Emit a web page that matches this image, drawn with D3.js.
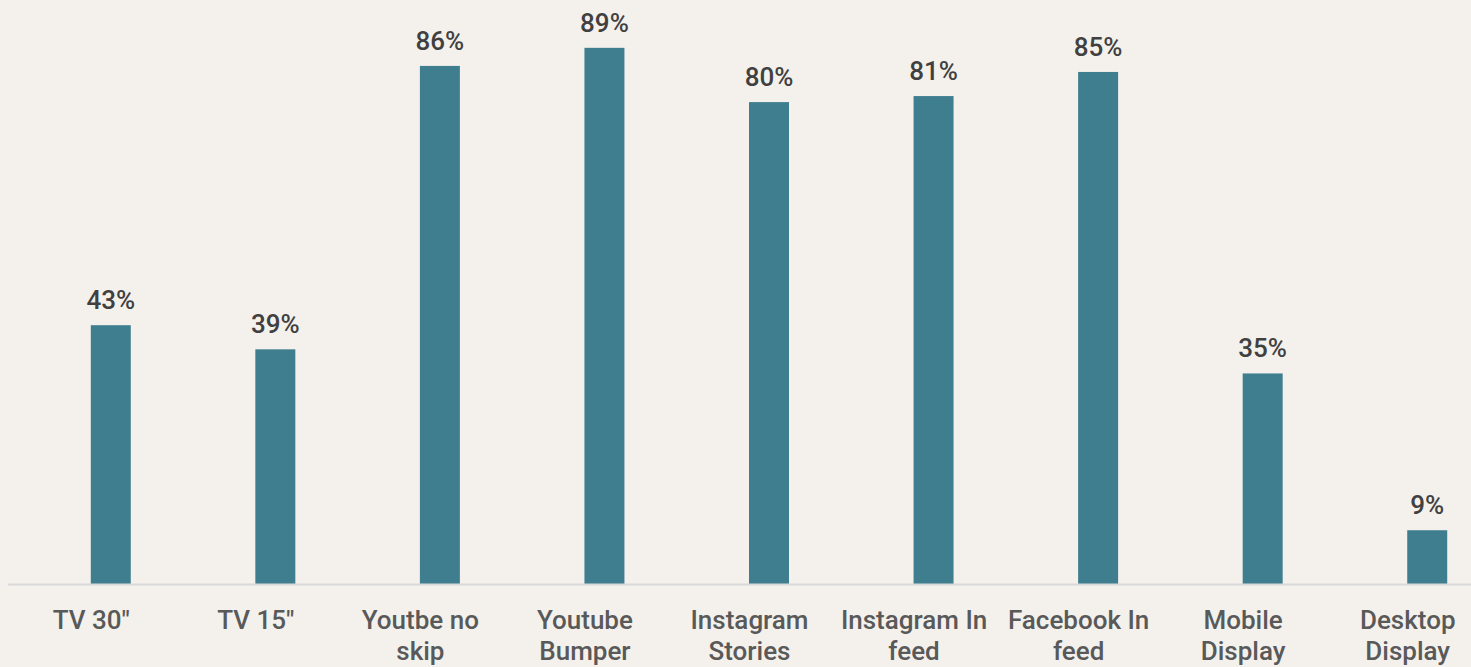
<!DOCTYPE html>
<html>
<head>
<meta charset="utf-8">
<script src="https://cdn.jsdelivr.net/npm/d3@7"></script>
<style>
html,body{margin:0;padding:0;background:#f4f1ec;overflow:hidden;}
svg{display:block;}
</style>
</head>
<body>
<svg id="chart" width="1471" height="667"></svg>
<script>
const categories = ["TV 30\"", "TV 15\"", "Youtbe no skip", "Youtube Bumper", "Instagram Stories", "Instagram In feed", "Facebook In feed", "Mobile Display", "Desktop Display"];
const labelLines = [["TV 30\""], ["TV 15\""], ["Youtbe no", "skip"], ["Youtube", "Bumper"], ["Instagram", "Stories"], ["Instagram In", "feed"], ["Facebook In", "feed"], ["Mobile", "Display"], ["Desktop", "Display"]];
const values = [43, 39, 86, 89, 80, 81, 85, 35, 9];

const W = 1471, H = 667;
const svg = d3.select("#chart");
svg.append("rect").attr("width", W).attr("height", H).attr("fill", "#f4f1ec");

const baseY = 584.5;
const x = d3.scaleBand().domain(categories).range([28.5, 1509.5]).paddingInner(0.757).paddingOuter(0.3785);
const y = d3.scaleLinear().domain([0, 100]).range([baseY, baseY - 603]);
const labelShift = -19.5;

const data = categories.map((c, i) => ({c, v: values[i], lines: labelLines[i]}));

svg.selectAll("rect.bar").data(data).enter().append("rect")
  .attr("class", "bar")
  .attr("x", d => x(d.c))
  .attr("width", x.bandwidth())
  .attr("y", d => y(d.v))
  .attr("height", d => y(0) - y(d.v))
  .attr("fill", "#3f7e8f");

svg.append("line").attr("x1", 8).attr("x2", W).attr("y1", baseY).attr("y2", baseY)
  .attr("stroke", "#d9d9d9").attr("stroke-width", 2);

const font = "Roboto, 'Liberation Sans', Arial, sans-serif";

svg.selectAll("text.val").data(data).enter().append("text")
  .attr("class", "val")
  .attr("x", d => x(d.c) + x.bandwidth() / 2)
  .attr("y", d => y(d.v) - 16)
  .attr("text-anchor", "middle")
  .attr("font-family", font)
  .attr("font-weight", 500)
  .attr("font-size", 26)
  .attr("fill", "#404040")
  .text(d => d.v + "%");

const cat = svg.selectAll("text.cat").data(data).enter().append("text")
  .attr("class", "cat")
  .attr("y", 629)
  .attr("text-anchor", "middle")
  .attr("font-family", font)
  .attr("font-weight", 500)
  .attr("font-size", 26)
  .attr("fill", "#595959");
cat.selectAll("tspan").data(d => d.lines.map(l => ({l, cx: x(d.c) + x.bandwidth() / 2 + labelShift}))).enter().append("tspan")
  .attr("x", t => t.cx)
  .attr("dy", (t, i) => i === 0 ? 0 : 31)
  .text(t => t.l);
</script>
</body>
</html>
